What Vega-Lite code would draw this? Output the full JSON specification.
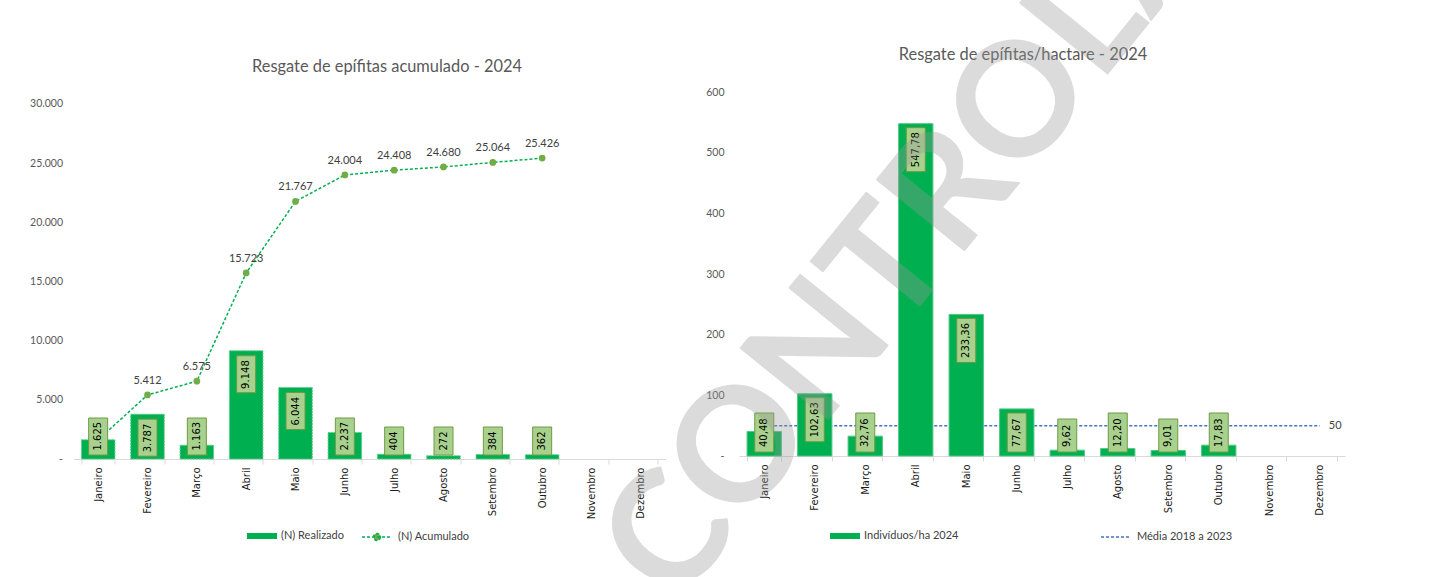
{
  "$schema": "https://vega.github.io/schema/vega-lite/v6.json",
  "autosize": {"type": "none"},
  "padding": {"left": 73.5, "top": 92, "right": 1360.5, "bottom": 485},
  "background": "white",
  "bounds": "flush",
  "spacing": 73.5,
  "resolve": {
    "scale": {"color": "independent", "fill": "independent", "stroke": "independent"},
    "legend": {"color": "independent", "fill": "independent", "stroke": "independent"}
  },
  "config": {
    "view": {"stroke": null},
    "locale": {"number": {"decimal": ",", "thousands": ".", "grouping": [3], "currency": ["R$ ", ""]}}
  },
  "datasets": {
    "esq": [
      {"mes": "Janeiro", "n": 1625, "acum": 1625},
      {"mes": "Fevereiro", "n": 3787, "acum": 5412},
      {"mes": "Março", "n": 1163, "acum": 6575},
      {"mes": "Abril", "n": 9148, "acum": 15723},
      {"mes": "Maio", "n": 6044, "acum": 21767},
      {"mes": "Junho", "n": 2237, "acum": 24004},
      {"mes": "Julho", "n": 404, "acum": 24408},
      {"mes": "Agosto", "n": 272, "acum": 24680},
      {"mes": "Setembro", "n": 384, "acum": 25064},
      {"mes": "Outubro", "n": 362, "acum": 25426},
      {"mes": "Novembro", "n": null, "acum": null},
      {"mes": "Dezembro", "n": null, "acum": null}
    ],
    "dir": [
      {"mes": "Janeiro", "ha": 40.48, "media": 50},
      {"mes": "Fevereiro", "ha": 102.63, "media": 50},
      {"mes": "Março", "ha": 32.76, "media": 50},
      {"mes": "Abril", "ha": 547.78, "media": 50},
      {"mes": "Maio", "ha": 233.36, "media": 50},
      {"mes": "Junho", "ha": 77.67, "media": 50},
      {"mes": "Julho", "ha": 9.62, "media": 50},
      {"mes": "Agosto", "ha": 12.20, "media": 50},
      {"mes": "Setembro", "ha": 9.01, "media": 50},
      {"mes": "Outubro", "ha": 17.83, "media": 50},
      {"mes": "Novembro", "ha": null, "media": 50},
      {"mes": "Dezembro", "ha": null, "media": 50}
    ]
  },
  "hconcat": [
    {
      "width": 592,
      "height": 367,
      "title": {"text": "Resgate de epífitas acumulado - 2024", "frame": "group", "offset": 17, "dx": 17.5, "font": "Lato", "fontSize": 16.4, "fontWeight": "normal", "color": "#595959"},
      "data": {"name": "esq"},
      "encoding": {
        "x": {
          "field": "mes", "type": "nominal", "title": null,
          "sort": ["Janeiro","Fevereiro","Março","Abril","Maio","Junho","Julho","Agosto","Setembro","Outubro","Novembro","Dezembro"],
          "scale": {"domain": ["Janeiro","Fevereiro","Março","Abril","Maio","Junho","Julho","Agosto","Setembro","Outubro","Novembro","Dezembro"], "paddingInner": 0.32, "paddingOuter": 0.16},
          "axis": {"labelAngle": 270, "labelFont": "DejaVu Sans", "labelFontSize": 10, "labelColor": "#1A1A1A", "domainColor": "#D9D9D9", "tickColor": "#D9D9D9", "tickSize": 5, "tickBand": "extent", "labelPadding": 3}
        }
      },
      "layer": [
        {
          "mark": {"type": "bar", "stroke": "#5FCF8C", "strokeWidth": 1, "strokeDash": [2, 1]},
          "encoding": {
            "y": {"field": "n", "type": "quantitative", "title": null,
              "scale": {"domain": [0, 31014], "nice": false, "zero": true},
              "axis": {"values": [0, 5000, 10000, 15000, 20000, 25000, 30000], "format": ",d", "labelExpr": "datum.value === 0 ? '-' : datum.label", "domain": false, "ticks": false, "grid": false, "labelFont": "Lato", "labelFontSize": 10.5, "labelColor": "#595959", "labelPadding": 11}},
            "fill": {"datum": "(N) Realizado", "type": "nominal",
              "scale": {"range": ["#00B050"]},
              "legend": {
                "orient": "none", "legendX": 173.5, "legendY": 429, "title": null,
                "symbolType": "M-1,-0.2H1V0.2H-1Z", "symbolSize": 900, "symbolStrokeWidth": 0,
                "labelFont": "Lato", "labelFontSize": 11, "labelColor": "#404040", "labelOffset": 4
              }}
          }
        },
        {
          "mark": {"type": "line", "strokeDash": [3, 2], "strokeWidth": 1.5},
          "encoding": {
            "y": {"field": "acum", "type": "quantitative", "title": null},
            "stroke": {"datum": "(N) Acumulado", "type": "nominal",
              "scale": {"range": ["#00B050"]},
              "legend": {
                "orient": "none", "legendX": 287.5, "legendY": 429, "title": null,
                "symbolType": "M-1,0H1M0.23,0A0.23,0.23,0,1,1,-0.23,0A0.23,0.23,0,1,1,0.23,0Z", "symbolSize": 900,
                "symbolStrokeWidth": 1.5, "symbolDash": [3, 2], "symbolFillColor": "#70AD47",
                "labelFont": "Lato", "labelFontSize": 11, "labelColor": "#404040", "labelOffset": 5,
                "encode": {"symbols": {"update": {"fill": {"value": "#70AD47"}}}}
              }}
          }
        },
        {
          "transform": [{"filter": "isValid(datum.acum)"}],
          "mark": {"type": "point", "filled": true, "color": "#70AD47", "size": 45, "opacity": 1},
          "encoding": {"y": {"field": "acum", "type": "quantitative", "title": null}}
        },
        {
          "transform": [{"filter": "isValid(datum.acum) && datum.mes !== 'Janeiro'"}],
          "mark": {"type": "text", "font": "Lato", "fontSize": 11, "color": "#404040", "baseline": "middle", "dy": -14},
          "encoding": {
            "y": {"field": "acum", "type": "quantitative", "title": null},
            "text": {"field": "acum", "type": "quantitative", "format": ",d"}
          }
        },
        {
          "transform": [{"filter": "isValid(datum.n) && datum.n >= 3787"}],
          "mark": {"type": "bar", "width": 19, "color": "#A9D18E", "stroke": "#6E9A43", "strokeWidth": 1, "yOffset": 5, "y2Offset": 42},
          "encoding": {
            "y": {"field": "n", "type": "quantitative", "title": null},
            "y2": {"field": "n"}
          }
        },
        {
          "transform": [{"filter": "isValid(datum.n) && datum.n >= 1000 && datum.n < 3787"}],
          "mark": {"type": "bar", "width": 19, "color": "#A9D18E", "stroke": "#6E9A43", "strokeWidth": 1, "yOffset": -4, "y2Offset": -41},
          "encoding": {
            "y": {"datum": 0, "type": "quantitative", "title": null},
            "y2": {"datum": 0}
          }
        },
        {
          "transform": [{"filter": "isValid(datum.n) && datum.n < 1000"}],
          "mark": {"type": "bar", "width": 19, "color": "#A9D18E", "stroke": "#6E9A43", "strokeWidth": 1, "yOffset": -4, "y2Offset": -32},
          "encoding": {
            "y": {"datum": 0, "type": "quantitative", "title": null},
            "y2": {"datum": 0}
          }
        },
        {
          "transform": [{"filter": "isValid(datum.n) && datum.n >= 3787"}],
          "mark": {"type": "text", "angle": 270, "align": "right", "baseline": "middle", "dx": -9.5, "font": "DejaVu Sans", "fontSize": 10, "color": "#000000"},
          "encoding": {
            "y": {"field": "n", "type": "quantitative", "title": null},
            "text": {"field": "n", "type": "quantitative", "format": ",d"}
          }
        },
        {
          "transform": [{"filter": "isValid(datum.n) && datum.n < 3787"}],
          "mark": {"type": "text", "angle": 270, "align": "left", "baseline": "middle", "dx": 8.5, "font": "DejaVu Sans", "fontSize": 10, "color": "#000000"},
          "encoding": {
            "y": {"datum": 0, "type": "quantitative", "title": null},
            "text": {"field": "n", "type": "quantitative", "format": ",d"}
          }
        }
      ]
    },
    {
      "width": 606,
      "height": 364,
      "data": {"name": "dir"},
      "resolve": {"axis": {"x": "independent"}},
      "layer": [
        {
          "mark": {"type": "line", "strokeDash": [3, 2], "strokeWidth": 1.5},
          "encoding": {
            "x": {
              "field": "mes", "type": "nominal", "title": null,
              "sort": ["Janeiro","Fevereiro","Março","Abril","Maio","Junho","Julho","Agosto","Setembro","Outubro","Novembro","Dezembro"],
              "scale": {"domain": ["Janeiro","Fevereiro","Março","Abril","Maio","Junho","Julho","Agosto","Setembro","Outubro","Novembro","Dezembro"], "paddingInner": 0.32, "paddingOuter": 0.16},
              "axis": {"labelAngle": 270, "labelFont": "DejaVu Sans", "labelFontSize": 10, "labelColor": "#1A1A1A", "domainColor": "#D9D9D9", "tickColor": "#D9D9D9", "tickSize": 5, "tickBand": "extent", "labelPadding": 3}
            },
            "y": {"field": "media", "type": "quantitative", "title": null,
              "scale": {"domain": [0, 600], "nice": false, "zero": true},
              "axis": {"values": [0, 100, 200, 300, 400, 500, 600], "format": "d", "labelExpr": "datum.value === 0 ? '-' : datum.label", "domain": false, "ticks": false, "grid": false, "labelFont": "Lato", "labelFontSize": 10.5, "labelColor": "#595959", "labelPadding": 15}},
            "stroke": {"datum": "Média 2018 a 2023", "type": "nominal",
              "scale": {"range": ["#4472C4"]},
              "legend": {
                "orient": "none", "legendX": 361, "legendY": 429, "title": null,
                "symbolType": "M-1,0H1", "symbolSize": 900, "symbolStrokeWidth": 1.5, "symbolDash": [3, 2],
                "labelFont": "Lato", "labelFontSize": 11, "labelColor": "#404040", "labelOffset": 5
              }}
          }
        },
        {
          "mark": {"type": "bar", "stroke": "#4CC982", "strokeWidth": 1},
          "encoding": {
            "x": {"field": "mes", "type": "nominal", "title": null, "sort": ["Janeiro","Fevereiro","Março","Abril","Maio","Junho","Julho","Agosto","Setembro","Outubro","Novembro","Dezembro"], "axis": null},
            "y": {"field": "ha", "type": "quantitative", "title": null},
            "fill": {"datum": "Indivíduos/ha 2024", "type": "nominal",
              "scale": {"range": ["#00B050"]},
              "legend": {
                "orient": "none", "legendX": 91, "legendY": 429, "title": null,
                "symbolType": "M-1,-0.2H1V0.2H-1Z", "symbolSize": 900, "symbolStrokeWidth": 0,
                "labelFont": "Lato", "labelFontSize": 11, "labelColor": "#404040", "labelOffset": 4
              }}
          }
        },
        {
          "transform": [{"filter": "datum.mes === 'Dezembro'"}],
          "mark": {"type": "text", "align": "left", "baseline": "middle", "dx": 9, "font": "Lato", "fontSize": 11, "color": "#404040"},
          "encoding": {
            "x": {"field": "mes", "type": "nominal", "sort": ["Janeiro","Fevereiro","Março","Abril","Maio","Junho","Julho","Agosto","Setembro","Outubro","Novembro","Dezembro"],
              "axis": {"orient": "top", "domain": false, "ticks": false, "labels": false, "grid": false,
                "title": "Resgate de epífitas/hactare - 2024", "titleFont": "Lato", "titleFontSize": 16.4, "titleFontWeight": "normal", "titleColor": "#595959", "titlePadding": 30, "titleX": 283.5}},
            "y": {"field": "media", "type": "quantitative", "title": null},
            "text": {"field": "media", "type": "quantitative", "format": "d"}
          }
        },
        {
          "transform": [{"filter": "isValid(datum.ha) && datum.ha >= 100"}],
          "mark": {"type": "bar", "width": 19, "color": "#A9D18E", "stroke": "#6E9A43", "strokeWidth": 1, "yOffset": 4, "y2Offset": 48},
          "encoding": {
            "x": {"field": "mes", "type": "nominal", "title": null, "sort": ["Janeiro","Fevereiro","Março","Abril","Maio","Junho","Julho","Agosto","Setembro","Outubro","Novembro","Dezembro"], "axis": null},
            "y": {"field": "ha", "type": "quantitative", "title": null},
            "y2": {"field": "ha"}
          }
        },
        {
          "transform": [{"filter": "isValid(datum.ha) && datum.ha >= 10 && datum.ha < 100"}],
          "mark": {"type": "bar", "width": 19, "color": "#A9D18E", "stroke": "#6E9A43", "strokeWidth": 1, "yOffset": -4, "y2Offset": -43},
          "encoding": {
            "x": {"field": "mes", "type": "nominal", "title": null, "sort": ["Janeiro","Fevereiro","Março","Abril","Maio","Junho","Julho","Agosto","Setembro","Outubro","Novembro","Dezembro"], "axis": null},
            "y": {"datum": 0, "type": "quantitative", "title": null},
            "y2": {"datum": 0}
          }
        },
        {
          "transform": [{"filter": "isValid(datum.ha) && datum.ha < 10"}],
          "mark": {"type": "bar", "width": 19, "color": "#A9D18E", "stroke": "#6E9A43", "strokeWidth": 1, "yOffset": -4, "y2Offset": -37},
          "encoding": {
            "x": {"field": "mes", "type": "nominal", "title": null, "sort": ["Janeiro","Fevereiro","Março","Abril","Maio","Junho","Julho","Agosto","Setembro","Outubro","Novembro","Dezembro"], "axis": null},
            "y": {"datum": 0, "type": "quantitative", "title": null},
            "y2": {"datum": 0}
          }
        },
        {
          "transform": [{"filter": "isValid(datum.ha) && datum.ha >= 100"}],
          "mark": {"type": "text", "angle": 270, "align": "right", "baseline": "middle", "dx": -8.5, "font": "DejaVu Sans", "fontSize": 10, "color": "#000000"},
          "encoding": {
            "x": {"field": "mes", "type": "nominal", "title": null, "sort": ["Janeiro","Fevereiro","Março","Abril","Maio","Junho","Julho","Agosto","Setembro","Outubro","Novembro","Dezembro"], "axis": null},
            "y": {"field": "ha", "type": "quantitative", "title": null},
            "text": {"field": "ha", "type": "quantitative", "format": ",.2f"}
          }
        },
        {
          "transform": [{"filter": "isValid(datum.ha) && datum.ha < 100"}],
          "mark": {"type": "text", "angle": 270, "align": "left", "baseline": "middle", "dx": 9, "font": "DejaVu Sans", "fontSize": 10, "color": "#000000"},
          "encoding": {
            "x": {"field": "mes", "type": "nominal", "title": null, "sort": ["Janeiro","Fevereiro","Março","Abril","Maio","Junho","Julho","Agosto","Setembro","Outubro","Novembro","Dezembro"], "axis": null},
            "y": {"datum": 0, "type": "quantitative", "title": null},
            "text": {"field": "ha", "type": "quantitative", "format": ",.2f"}
          }
        },
        {
          "data": {"values": [{}]},
          "mark": {"type": "text", "text": "CONTROLADA", "font": "Lato", "fontWeight": "bold", "fontSize": 158, "angle": 309, "align": "center", "baseline": "middle", "dx": 9, "dy": 14, "color": "#999999", "opacity": 0.35},
          "encoding": {
            "x": {"datum": "Maio", "type": "nominal", "axis": null},
            "y": {"datum": 500, "type": "quantitative"}
          }
        }
      ]
    }
  ]
}
